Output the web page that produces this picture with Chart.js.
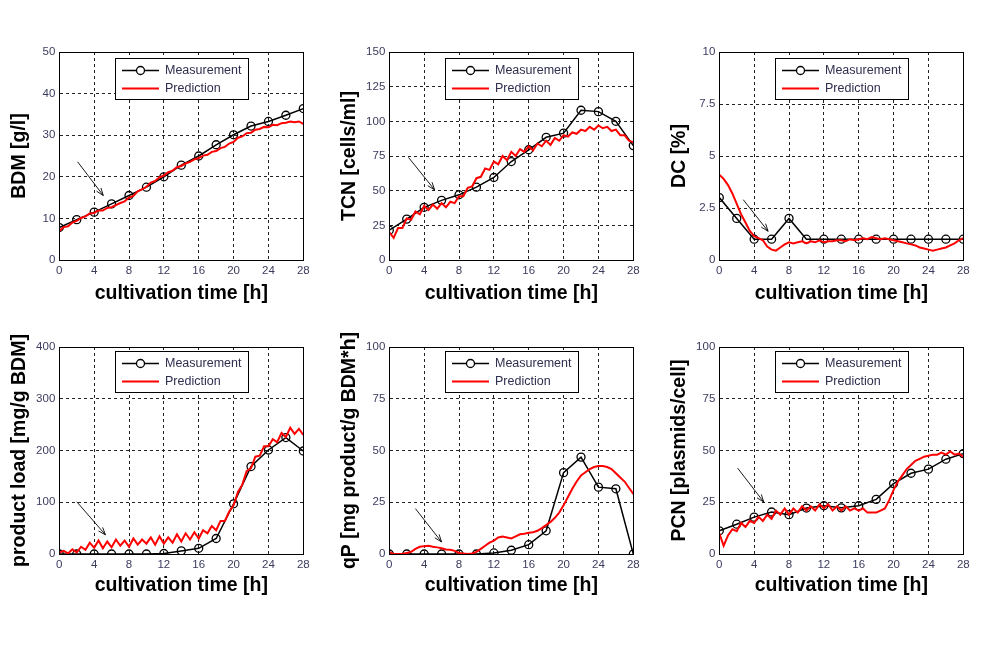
<!DOCTYPE html>
<html>
<head>
<meta charset="utf-8">
<script src="https://cdn.jsdelivr.net/npm/chart.js@4"></script>
<style>
  body { margin: 0; background: #fff; }
  .panel { position: absolute; }
</style>
</head>
<body>
<canvas id="bdmChart" class="panel" width="330" height="270" style="left:0px;top:40px"></canvas>
<canvas id="tcnChart" class="panel" width="330" height="270" style="left:330px;top:40px"></canvas>
<canvas id="dcChart" class="panel" width="330" height="270" style="left:660px;top:40px"></canvas>
<canvas id="loadChart" class="panel" width="330" height="280" style="left:0px;top:330px"></canvas>
<canvas id="qpChart" class="panel" width="330" height="280" style="left:330px;top:330px"></canvas>
<canvas id="pcnChart" class="panel" width="330" height="280" style="left:660px;top:330px"></canvas>
<script>
// sampling times [h]
const tMeas = [0, 2, 4, 6, 8, 10, 12, 14, 16, 18, 20, 22, 24, 26, 28];
const tPred = [0, 0.5, 1, 1.5, 2, 2.5, 3, 3.5, 4, 4.5, 5, 5.5, 6, 6.5, 7, 7.5, 8, 8.5, 9, 9.5,
               10, 10.5, 11, 11.5, 12, 12.5, 13, 13.5, 14, 14.5, 15, 15.5, 16, 16.5, 17, 17.5, 18, 18.5, 19, 19.5,
               20, 20.5, 21, 21.5, 22, 22.5, 23, 23.5, 24, 24.5, 25, 25.5, 26, 26.5, 27, 27.5, 28];

// BDM [g/l]
const bdmMeas = [7.8, 9.7, 11.5, 13.5, 15.5, 17.5, 20, 22.8, 25, 27.7, 30.1, 32.2, 33.3, 34.8, 36.4];
const bdmPred = [7.0, 7.9, 8.1, 9.0, 9.4, 10.1, 10.5, 11.2, 11.3, 11.9,
                 11.9, 12.5, 12.7, 13.2, 13.7, 14.1, 15.0, 15.4, 16.5, 17.0,
                 17.6, 18.6, 19.0, 19.9, 20.3, 21.1, 21.5, 22.3, 22.6, 23.2,
                 23.6, 24.2, 24.5, 25.1, 25.3, 26.0, 26.2, 26.9, 27.2, 28.0,
                 28.4, 29.4, 29.7, 30.5, 30.6, 31.3, 31.5, 32.0, 31.9, 32.5,
                 32.4, 32.9, 33.0, 33.3, 33.1, 33.3, 32.7];

// TCN [cells/ml]
const tcnMeas = [21.5, 29.5, 38, 43, 47, 52.5, 59.5, 71, 79.5, 88.5, 91.5, 108, 107, 100, 82.5];
const tcnPred = [20, 16, 23, 23, 30, 29, 35, 33, 39, 36,
                 40, 37, 41, 38, 42, 41, 46, 46, 52, 53,
                 59, 60, 66, 65, 71, 69, 75, 72, 78, 75,
                 80, 78, 82, 79, 84, 82, 86, 83, 88, 86,
                 90, 89, 92, 91, 94, 93, 96, 94, 97, 95,
                 96, 93, 94, 90, 90, 86, 85];

// DC [%]
const dcMeas = [3, 2, 1, 1, 2, 1, 1, 1, 1, 1, 1, 1, 1, 1, 1];
const dcPred = [4.1, 3.9, 3.6, 3.2, 2.7, 2.2, 1.8, 1.4, 1.15, 1.05,
                0.95, 0.65, 0.5, 0.45, 0.6, 0.75, 0.85, 0.8, 0.85, 0.9,
                0.8, 0.9, 0.85, 0.95, 0.85, 0.9, 0.9, 0.95, 0.95, 0.9,
                1.0, 0.95, 1.0, 1.05, 1.0, 1.1, 1.05, 1.0, 1.05, 1.0,
                0.95, 0.9, 0.85, 0.8, 0.75, 0.7, 0.6, 0.55, 0.5, 0.45,
                0.5, 0.55, 0.6, 0.7, 0.8, 0.95, 1.05];

// product load [mg/g BDM]
const loadMeas = [0, 0, 0, 0, 0, 0, 1, 6, 11, 30, 97, 169, 201, 225, 199];
const loadPred = [3, 6, 1, 9, 3, 14, 8, 22, 12, 26,
                  11, 24, 13, 28, 16, 26, 14, 30, 18, 28,
                  20, 32, 18, 34, 20, 32, 22, 38, 24, 40,
                  28, 42, 30, 46, 40, 54, 46, 64, 64, 82,
                  94, 120, 134, 160, 166, 188, 190, 208, 208, 222,
                  216, 234, 226, 244, 232, 242, 230];

// qP [mg product/g BDM*h]
const qpMeas = [0, 0, 0, 0, 0, 0, 0.5, 1.8, 4.5, 11.2, 39.3, 46.8, 32.3, 31.5, 0];
const qpPred = [1, 0, 0, 0, 0.5, 1, 2.5, 3.5, 3.8, 4,
                3.5, 3.2, 2.8, 2.2, 2, 1.5, 0.5, 0.2, 0, 0.3,
                1, 2.5, 4, 5.5, 6.5, 8, 8.5, 8, 7.5, 8.5,
                9.5, 9.8, 10.3, 10.5, 11.2, 12.5, 14, 15.5, 17.5, 20,
                23.5, 27.5, 31.5, 35, 38, 39.5, 41, 42, 42.5, 42.5,
                42, 41, 39, 37, 35, 32, 29];

// PCN [plasmids/cell]
const pcnMeas = [11.2, 14.4, 17.8, 20.3, 19, 22.2, 23.3, 22.3, 23.3, 26.4, 34, 39, 41, 45.8, 48.5];
const pcnPred = [10, 4, 9, 12, 11, 15, 13, 16, 15, 18,
                 16, 19, 17, 21, 19, 22, 19, 22, 20, 23,
                 21, 23, 21, 24, 22, 24, 21, 23, 21, 23,
                 21, 22, 21, 22, 20, 20, 20, 21, 22, 26,
                 31, 35, 38, 41, 43, 45, 46, 47, 47.5, 48,
                 48, 49, 48, 49.5, 48, 48.5, 47];

// arrows in data units: [x1, y1, x2, y2]
const bdmArrow = [2.1, 23.6, 5.05, 15.5];
const tcnArrow = [2.2, 74, 5.2, 50.6];
const dcArrow = [2.75, 2.9, 5.6, 1.38];
const loadArrow = [2.0, 101, 5.3, 37];
const qpArrow = [3.0, 21.9, 6.0, 5.8];
const pcnArrow = [2.1, 41.5, 5.1, 25.1];

const FONT = '"Liberation Sans", Arial, sans-serif';
const TICK_COLOR = '#3b3b5e';

// solid frame round the axes, like matlab "box on"
const boxPlugin = {
    id: 'boxFrame',
    afterDraw(chart) {
        const a = chart.chartArea;
        const ctx = chart.ctx;
        ctx.save();
        ctx.strokeStyle = '#000';
        ctx.lineWidth = 1;
        ctx.strokeRect(Math.round(a.left) + 0.5, Math.round(a.top) + 0.5,
                       Math.round(a.right - a.left), Math.round(a.bottom - a.top));
        ctx.restore();
    }
};

const arrowPlugin = {
    id: 'arrowNote',
    afterDraw(chart, args, opts) {
        const p = opts.points;
        if (!p) return;
        const xs = chart.scales.x, ys = chart.scales.y;
        const x1 = xs.getPixelForValue(p[0]), y1 = ys.getPixelForValue(p[1]);
        const x2 = xs.getPixelForValue(p[2]), y2 = ys.getPixelForValue(p[3]);
        const ang = Math.atan2(y2 - y1, x2 - x1);
        const ctx = chart.ctx;
        ctx.save();
        ctx.strokeStyle = '#000';
        ctx.lineWidth = 0.9;
        ctx.beginPath();
        ctx.moveTo(x1, y1);
        ctx.lineTo(x2, y2);
        ctx.moveTo(x2 - 8 * Math.cos(ang - 0.35), y2 - 8 * Math.sin(ang - 0.35));
        ctx.lineTo(x2, y2);
        ctx.lineTo(x2 - 8 * Math.cos(ang + 0.35), y2 - 8 * Math.sin(ang + 0.35));
        ctx.stroke();
        ctx.restore();
    }
};

const legendPlugin = {
    id: 'boxLegend',
    afterDraw(chart, args, opts) {
        const a = chart.chartArea;
        const ctx = chart.ctx;
        const x = Math.round(a.left + 55.5), y = Math.round(a.top + opts.top);
        const w = 133, h = 41;
        ctx.save();
        ctx.fillStyle = '#fff';
        ctx.fillRect(x, y, w, h);
        ctx.strokeStyle = '#000';
        ctx.lineWidth = 1;
        ctx.strokeRect(x + 0.5, y + 0.5, w, h);

        const meas = chart.data.datasets[1];
        const pred = chart.data.datasets[0];
        const rows = [
            { ds: meas, yy: y + 12.5 },
            { ds: pred, yy: y + 30.5 }
        ];
        rows.forEach(r => {
            ctx.strokeStyle = r.ds.borderColor;
            ctx.lineWidth = r.ds.borderWidth;
            ctx.beginPath();
            ctx.moveTo(x + 7, r.yy);
            ctx.lineTo(x + 44, r.yy);
            ctx.stroke();
            if (r.ds.pointRadius > 0) {
                ctx.fillStyle = '#fff';
                ctx.lineWidth = 1.3;
                ctx.beginPath();
                ctx.arc(x + 25.5, r.yy, 4, 0, Math.PI * 2);
                ctx.fill();
                ctx.stroke();
            }
            ctx.fillStyle = '#2e2e4e';
            ctx.font = '12.5px ' + FONT;
            ctx.textBaseline = 'middle';
            ctx.textAlign = 'left';
            ctx.fillText(r.ds.label, x + 50, r.yy + 0.5);
        });
        ctx.restore();
    }
};

function createPanel(canvasId, yTitle, yMax, yStep, meas, pred, arrow, bottomRow) {
    const ctx = document.getElementById(canvasId).getContext('2d');
    return new Chart(ctx, {
        type: 'line',
        data: {
            datasets: [{
                label: 'Prediction',
                data: tPred.map((t, i) => ({ x: t, y: pred[i] })),
                borderColor: '#f00',
                borderWidth: 2,
                pointRadius: 0,
                tension: 0,
                order: 0
            }, {
                label: 'Measurement',
                data: tMeas.map((t, i) => ({ x: t, y: meas[i] })),
                borderColor: '#000',
                borderWidth: 1.5,
                pointRadius: 4,
                pointBorderWidth: 1.3,
                pointBorderColor: '#000',
                pointBackgroundColor: 'rgba(0,0,0,0)',
                tension: 0,
                order: 1
            }]
        },
        options: {
            responsive: false,
            animation: false,
            layout: { padding: { top: bottomRow ? 17 : 12, right: 26.7, left: 0, bottom: 0 } },
            plugins: {
                legend: { display: false },
                tooltip: { enabled: false },
                boxLegend: { top: bottomRow ? 4 : 6 },
                arrowNote: { points: arrow }
            },
            scales: {
                x: {
                    type: 'linear',
                    min: 0,
                    max: 28,
                    ticks: { stepSize: 4, color: TICK_COLOR, font: { family: FONT, size: 11.5 }, padding: 4 },
                    grid: { color: '#222', drawTicks: false },
                    border: { color: '#000', dash: [3, 3] },
                    title: {
                        display: true,
                        text: 'cultivation time [h]',
                        color: '#000',
                        font: { family: FONT, size: 19.5, weight: 'bold' },
                        padding: { top: 0, bottom: bottomRow ? 13 : 5 }
                    },
                    afterFit: s => { s.height = bottomRow ? 56 : 50; }
                },
                y: {
                    min: 0,
                    max: yMax,
                    ticks: { stepSize: yStep, color: TICK_COLOR, font: { family: FONT, size: 11.5 }, padding: 4 },
                    grid: { color: '#222', drawTicks: false },
                    border: { color: '#000', dash: [3, 3] },
                    title: {
                        display: true,
                        text: yTitle,
                        color: '#000',
                        font: { family: FONT, size: 19.5, weight: 'bold' },
                        padding: { top: 7.6, bottom: 0 }
                    },
                    afterFit: s => { s.width = 59.3; }
                }
            }
        },
        plugins: [boxPlugin, arrowPlugin, legendPlugin]
    });
}

createPanel('bdmChart', 'BDM [g/l]', 50, 10, bdmMeas, bdmPred, bdmArrow, false);
createPanel('tcnChart', 'TCN [cells/ml]', 150, 25, tcnMeas, tcnPred, tcnArrow, false);
createPanel('dcChart', 'DC [%]', 10, 2.5, dcMeas, dcPred, dcArrow, false);
createPanel('loadChart', 'product load [mg/g BDM]', 400, 100, loadMeas, loadPred, loadArrow, true);
createPanel('qpChart', 'qP [mg product/g BDM*h]', 100, 25, qpMeas, qpPred, qpArrow, true);
createPanel('pcnChart', 'PCN [plasmids/cell]', 100, 25, pcnMeas, pcnPred, pcnArrow, true);
</script>
</body>
</html>
